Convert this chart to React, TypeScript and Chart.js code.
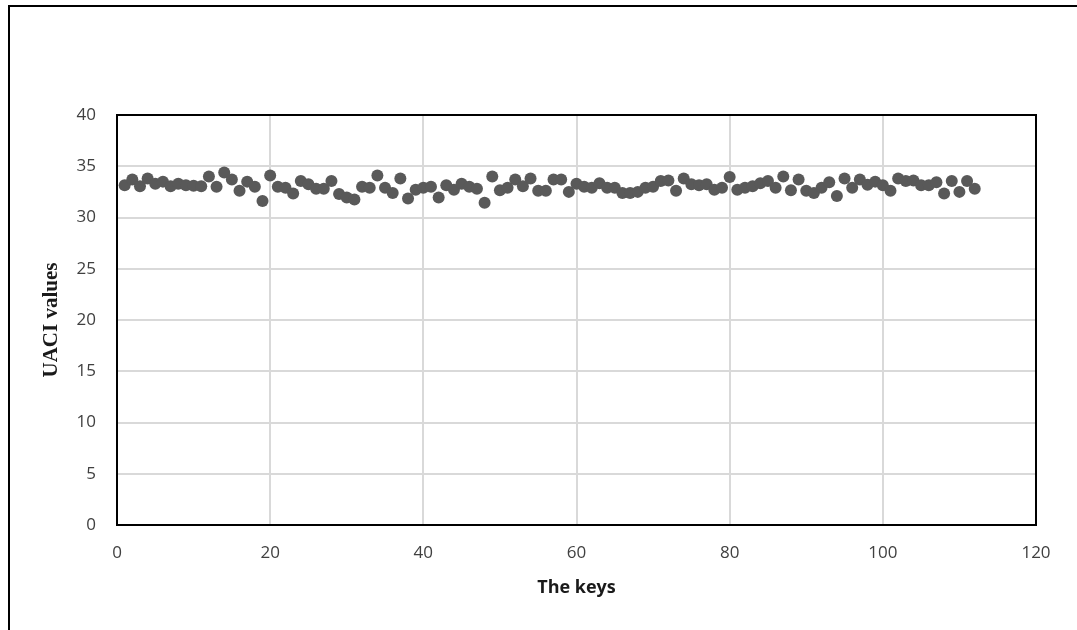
import React, { useEffect, useRef } from "react";
import { Chart, registerables } from "chart.js";

Chart.register(...registerables);

const keys: number[] = Array.from({ length: 112 }, (_, i) => i + 1);
const uaciValues: number[] = [
  33.15, 33.7, 33.05, 33.8, 33.3, 33.5, 33.05, 33.3, 33.15, 33.1,
  33.05, 34.0, 33.0, 34.4, 33.7, 32.6, 33.5, 33.0, 31.6, 34.1,
  33.0, 32.9, 32.35, 33.55, 33.25, 32.8, 32.8, 33.55, 32.3, 31.95,
  31.75, 33.0, 32.9, 34.1, 32.9, 32.4, 33.8, 31.85, 32.7, 32.9,
  33.0, 31.95, 33.15, 32.7, 33.3, 33.0, 32.8, 31.45, 34.0, 32.65,
  32.9, 33.7, 33.05, 33.8, 32.6, 32.6, 33.7, 33.7, 32.5, 33.3,
  33.0, 32.9, 33.35, 32.9, 32.9, 32.4, 32.4, 32.5, 32.9, 33.0,
  33.55, 33.6, 32.6, 33.8, 33.25, 33.15, 33.25, 32.7, 32.9, 33.95,
  32.7, 32.9, 33.05, 33.35, 33.55, 32.9, 34.0, 32.65, 33.7, 32.6,
  32.4, 32.9, 33.45, 32.1, 33.8, 32.9, 33.7, 33.2, 33.5, 33.15,
  32.6, 33.8, 33.55, 33.6, 33.15, 33.15, 33.45, 32.35, 33.55, 32.5,
  33.55, 32.8,
];

const xTitle = "The keys";
const yTitle = "UACI values";

const frameBox = {
  id: "frameBox",
  afterDraw(chart: any) {
    const { ctx, chartArea } = chart;
    ctx.save();
    ctx.strokeStyle = "#000000";
    ctx.lineWidth = 2;
    ctx.strokeRect(
      chartArea.left,
      chartArea.top,
      chartArea.right - chartArea.left,
      chartArea.bottom - chartArea.top
    );
    ctx.restore();
  },
};

export default function App() {
  const ref = useRef<HTMLCanvasElement | null>(null);

  useEffect(() => {
    if (!ref.current) return;
    const chart = new Chart(ref.current, {
      type: "scatter",
      data: {
        datasets: [
          {
            label: yTitle,
            data: keys.map((k, i) => ({ x: k, y: uaciValues[i] })),
            backgroundColor: "#595959",
            borderWidth: 0,
            pointRadius: 6,
            pointHoverRadius: 6,
          },
        ],
      },
      options: {
        animation: false,
        responsive: false,
        maintainAspectRatio: false,
        layout: { padding: { top: 115, right: 41, left: 0, bottom: 0 } },
        plugins: { legend: { display: false }, tooltip: { enabled: false } },
        scales: {
          x: {
            type: "linear",
            min: 0,
            max: 120,
            afterFit: (s: any) => {
              s.height = 105;
            },
            ticks: {
              stepSize: 20,
              padding: 18,
              color: "#404040",
              font: { family: "'Open Sans', sans-serif", size: 17 },
            },
            grid: { color: "#d9d9d9", lineWidth: 2, drawTicks: false },
            border: { display: false },
            title: {
              display: true,
              text: xTitle,
              color: "#1a1a1a",
              font: { family: "'Open Sans', sans-serif", size: 18, weight: "bold" },
              padding: { top: 0, bottom: 31 },
            },
          },
          y: {
            type: "linear",
            min: 0,
            max: 40,
            afterFit: (s: any) => {
              s.width = 117;
            },
            ticks: {
              stepSize: 5,
              padding: 21,
              color: "#404040",
              font: { family: "'Open Sans', sans-serif", size: 17 },
            },
            grid: { color: "#d9d9d9", lineWidth: 2, drawTicks: false },
            border: { display: false },
            title: {
              display: true,
              text: yTitle,
              color: "#1a1a1a",
              font: { family: "'Liberation Serif', 'Times New Roman', serif", size: 21, weight: "bold" },
              padding: { top: 39, bottom: 0 },
            },
          },
        },
      },
      plugins: [frameBox],
    });
    return () => chart.destroy();
  }, []);

  return (
    <div
      style={{
        position: "fixed",
        left: 0,
        top: 0,
        width: 1077,
        height: 630,
        overflow: "hidden",
        background: "#ffffff",
      }}
    >
      <div
        style={{
          position: "absolute",
          left: 8,
          top: 5,
          width: 1100,
          height: 700,
          borderLeft: "2px solid #000",
          borderTop: "2px solid #000",
        }}
      />
      <canvas
        ref={ref}
        width={1077}
        height={630}
        style={{ position: "absolute", left: 0, top: 0, width: 1077, height: 630 }}
      />
    </div>
  );
}
